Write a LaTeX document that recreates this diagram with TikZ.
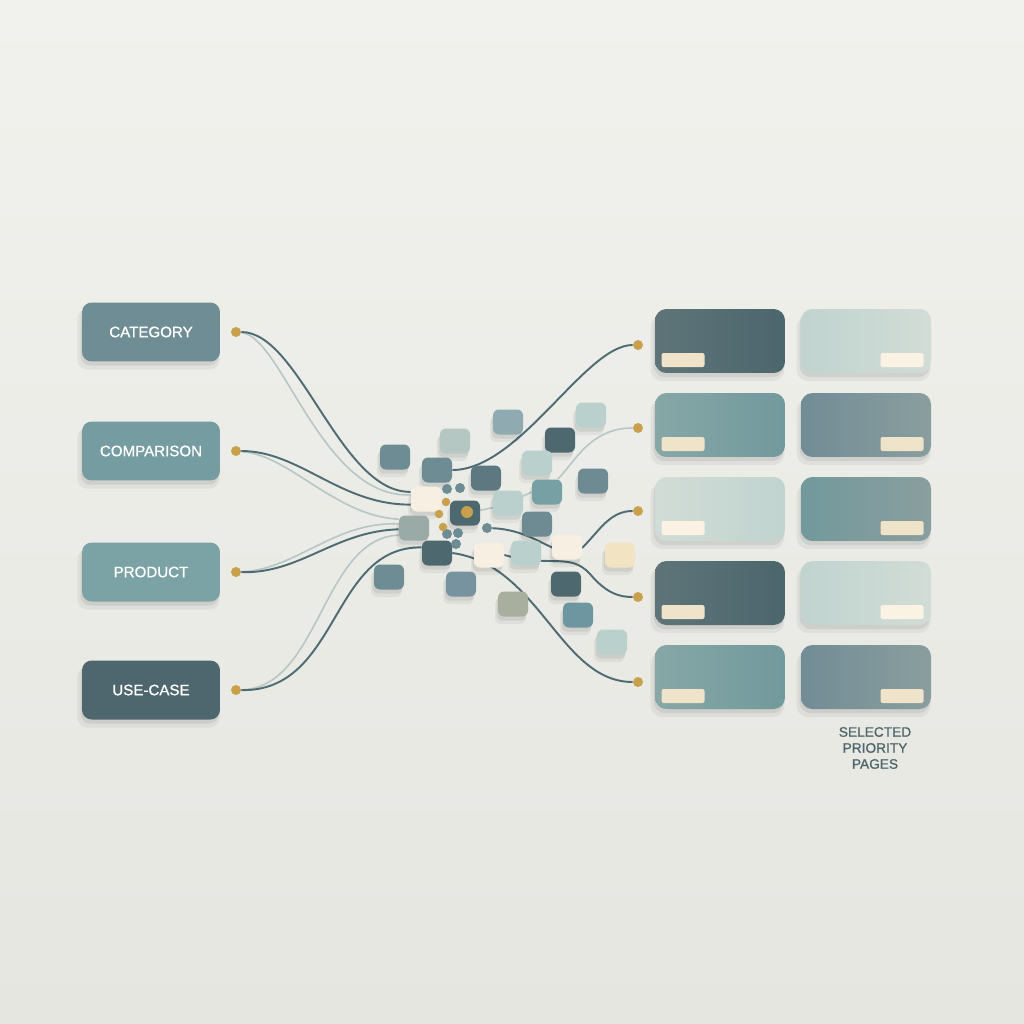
\documentclass[tikz,border=0pt]{standalone}
\usepackage{fontspec}
\setmainfont{Liberation Sans}
\newfontfamily\labelfont[FakeBold=0.9]{Liberation Sans}
\usetikzlibrary{shadows}
\definecolor{bgtop}{HTML}{F1F1ED}
\definecolor{bgbottom}{HTML}{E6E6E1}
\definecolor{topicslate}{HTML}{6F8D95}
\definecolor{topicteal}{HTML}{749CA1}
\definecolor{topicsea}{HTML}{7BA2A5}
\definecolor{topicdark}{HTML}{4E676E}
\definecolor{golddot}{HTML}{C9A14D}
\definecolor{wiredark}{HTML}{4F6C75}
\definecolor{wirelight}{HTML}{B6C6C4}
\definecolor{notecol}{HTML}{4E656C}
\definecolor{chipslate}{HTML}{6E8C94}
\definecolor{chipslatetwo}{HTML}{6E8A92}
\definecolor{chipsage}{HTML}{B5C7C2}
\definecolor{chipblue}{HTML}{8FAAB0}
\definecolor{chipmist}{HTML}{BAD0CD}
\definecolor{chipdark}{HTML}{4E6870}
\definecolor{chipmid}{HTML}{5D7880}
\definecolor{chipteal}{HTML}{76A0A3}
\definecolor{chiptealtwo}{HTML}{6E96A0}
\definecolor{chipcream}{HTML}{F7F0E2}
\definecolor{chipgray}{HTML}{9AAAA6}
\definecolor{chipsand}{HTML}{F2E3C3}
\definecolor{chipolive}{HTML}{A9AF9F}
\definecolor{chipsteel}{HTML}{7893A0}
\definecolor{pagedarkA}{HTML}{5E7479}
\definecolor{pagedarkB}{HTML}{4C666D}
\definecolor{pagetealA}{HTML}{86A7A6}
\definecolor{pagetealB}{HTML}{72999D}
\definecolor{pagelightA}{HTML}{C0D4D0}
\definecolor{pagelightB}{HTML}{D2DCD6}
\definecolor{pagegrayA}{HTML}{728C96}
\definecolor{pagegrayB}{HTML}{8A9E9E}
\definecolor{tagcream}{HTML}{EFE3C9}
\definecolor{taglight}{HTML}{FAF3E3}
\pgfdeclarelayer{wires}
\pgfsetlayers{wires,main}

\begin{document}
\begin{tikzpicture}%
	[x=0.02cm, y=-0.02cm,
	softshadow/.style={drop shadow={shadow xshift=-1.4pt, shadow yshift=-4pt, opacity=0.05, fill=black, shadow scale=1.03},
		drop shadow={shadow xshift=-0.8pt, shadow yshift=-2.4pt, opacity=0.07, fill=black}},
	topicbox/.style={rounded corners=5.5pt, minimum width=2.76cm, minimum height=1.18cm, inner sep=0pt, text=white, font=\labelfont\fontsize{8.6}{10}\selectfont, softshadow},
	pagebox/.style={rounded corners=6.5pt, minimum width=2.6cm, minimum height=1.28cm, inner sep=0pt, softshadow},
	tagbox/.style={rounded corners=1.2pt, minimum width=0.86cm, minimum height=0.28cm, inner sep=0pt},
	chipbox/.style={rounded corners=3.4pt, minimum width=0.6cm, minimum height=0.5cm, inner sep=0pt, softshadow},
	gold/.style={circle, fill=golddot, minimum size=0.2cm, inner sep=0pt},
	smallgold/.style={circle, fill=golddot, minimum size=0.17cm, inner sep=0pt},
	smalldot/.style={circle, fill=chipslate, minimum size=0.2cm, inner sep=0pt},
	darkwire/.style={color=wiredark, line width=1.1pt},
	lightwire/.style={color=wirelight, line width=0.9pt}]
%
%% the four topic boxes
\node[topicbox, fill=topicslate] (category) at (151,332) {CATEGORY};
\node[topicbox, fill=topicteal] (comparison) at (151,451) {COMPARISON};
\node[topicbox, fill=topicsea] (product) at (151,572) {PRODUCT};
\node[topicbox, fill=topicdark] (usecase) at (151,690) {USE-CASE};
\node[gold] (dcategory) at (236,332) {};
\node[gold] (dcomparison) at (236,451) {};
\node[gold] (dproduct) at (236,572) {};
\node[gold] (dusecase) at (236,690) {};
%%
%% the cluster in the middle
\node[chipbox, fill=chipslate] (c1) at (395,457) {};
\node[chipbox, fill=chipsage] (c2) at (455,441) {};
\node[chipbox, fill=chipblue] (c3) at (508,422) {};
\node[chipbox, fill=chipmist] (c4) at (591,415) {};
\node[chipbox, fill=chipdark] (c5) at (560,440) {};
\node[chipbox, fill=chipslate] (c6) at (437,470) {};
\node[chipbox, fill=chipmid] (c7) at (486,478) {};
\node[chipbox, fill=chipmist] (c8) at (537,463) {};
\node[chipbox, fill=chipslatetwo] (c9) at (593,481) {};
\node[chipbox, fill=chipteal] (c10) at (547,492) {};
\node[chipbox, fill=chipcream] (c11) at (426,499) {};
\node[chipbox, fill=chipmist] (c12) at (508,503) {};
\node[chipbox, fill=chipdark] (c13) at (465,513) {};
\node[chipbox, fill=chipgray] (c14) at (414,528) {};
\node[chipbox, fill=chipslatetwo] (c15) at (537,524) {};
\node[chipbox, fill=chipdark] (c16) at (437,553) {};
\node[chipbox, fill=chipcream] (c17) at (489,555) {};
\node[chipbox, fill=chipmist] (c18) at (526,553) {};
\node[chipbox, fill=chipcream] (c19) at (567,547) {};
\node[chipbox, fill=chipsand] (c20) at (620,555) {};
\node[chipbox, fill=chipslate] (c21) at (389,577) {};
\node[chipbox, fill=chipsteel] (c22) at (461,584) {};
\node[chipbox, fill=chipdark] (c23) at (566,584) {};
\node[chipbox, fill=chipolive] (c24) at (513,604) {};
\node[chipbox, fill=chiptealtwo] (c25) at (578,615) {};
\node[chipbox, fill=chipmist] (c26) at (612,642) {};
\node[gold, minimum size=0.24cm] (hub) at (467,512) {};
\node[smalldot] (m1) at (447,489) {};
\node[smalldot] (m2) at (460,488) {};
\node[smalldot] (m3) at (487,528) {};
\node[smalldot] (m4) at (447,534) {};
\node[smalldot] (m5) at (458,533) {};
\node[smalldot] (m6) at (456,544) {};
\node[smallgold] (g1) at (446,502) {};
\node[smallgold] (g2) at (439,514) {};
\node[smallgold] (g3) at (443,527) {};
%%
%% the selected pages
\node[pagebox, left color=pagedarkA, right color=pagedarkB] (p11) at (720,341) {};
\node[pagebox, left color=pagelightA, right color=pagelightB] (p12) at (866,341) {};
\node[pagebox, left color=pagetealA, right color=pagetealB] (p21) at (720,425) {};
\node[pagebox, left color=pagegrayA, right color=pagegrayB] (p22) at (866,425) {};
\node[pagebox, left color=pagelightB, right color=pagelightA] (p31) at (720,509) {};
\node[pagebox, left color=pagetealB, right color=pagegrayB] (p32) at (866,509) {};
\node[pagebox, left color=pagedarkA, right color=pagedarkB] (p41) at (720,593) {};
\node[pagebox, left color=pagelightA, right color=pagelightB] (p42) at (866,593) {};
\node[pagebox, left color=pagetealA, right color=pagetealB] (p51) at (720,677) {};
\node[pagebox, left color=pagegrayA, right color=pagegrayB] (p52) at (866,677) {};
\node[tagbox, fill=tagcream] (t11) at (683,360) {};
\node[tagbox, fill=taglight] (t12) at (902,360) {};
\node[tagbox, fill=tagcream] (t21) at (683,444) {};
\node[tagbox, fill=tagcream] (t22) at (902,444) {};
\node[tagbox, fill=taglight] (t31) at (683,528) {};
\node[tagbox, fill=tagcream] (t32) at (902,528) {};
\node[tagbox, fill=tagcream] (t41) at (683,612) {};
\node[tagbox, fill=taglight] (t42) at (902,612) {};
\node[tagbox, fill=tagcream] (t51) at (683,696) {};
\node[tagbox, fill=tagcream] (t52) at (902,696) {};
\node[gold] (r1) at (638,345) {};
\node[gold] (r2) at (638,428) {};
\node[gold] (r3) at (638,511) {};
\node[gold] (r4) at (638,597) {};
\node[gold] (r5) at (638,682) {};
\node[align=center, text=notecol, font=\labelfont\fontsize{7.8}{9.1}\selectfont] (selnote) at (875,748) {SELECTED\\PRIORITY\\PAGES};
%%
%% background and wires, behind everything
\begin{pgfonlayer}{wires}
\shade[top color=bgtop, bottom color=bgbottom] (0,0) rectangle (1024,1024);
\draw[lightwire] (dcategory) .. controls (282,336) and (322,499) .. (c11.165);
\draw[darkwire] (dcategory) .. controls (300,332) and (340,493) .. (c11.155);
\draw[lightwire] (dcomparison) .. controls (290,455) and (335,516) .. (c14.150);
\draw[darkwire] (dcomparison) .. controls (300,451) and (340,505) .. (c11.200);
\draw[lightwire] (dproduct) .. controls (295,570) and (335,521) .. (c14.165);
\draw[darkwire] (dproduct) .. controls (300,574) and (335,531) .. (c14.185);
\draw[lightwire] (dusecase) .. controls (320,688) and (322,538) .. (c14.205);
\draw[darkwire] (dusecase) .. controls (340,692) and (330,546) .. (c16.160);
%%
\draw[darkwire] (c6.east) .. controls (520,470) and (585,345) .. (r1);
\draw[lightwire] (c10.50) .. controls (575,462) and (590,428) .. (r2);
\draw[lightwire] (hub) .. controls (500,508) and (515,500) .. (c10.west);
\draw[darkwire] (m3) .. controls (540,530) and (560,565) .. (583,547) .. controls (600,530) and (610,511) .. (r3);
\draw[darkwire] (c17.east) .. controls (550,568) and (570,552) .. (590,574) .. controls (607,594) and (620,597) .. (r4);
\draw[darkwire] (c16.east) .. controls (540,565) and (560,682) .. (r5);
\end{pgfonlayer}
\end{tikzpicture}
\end{document}
